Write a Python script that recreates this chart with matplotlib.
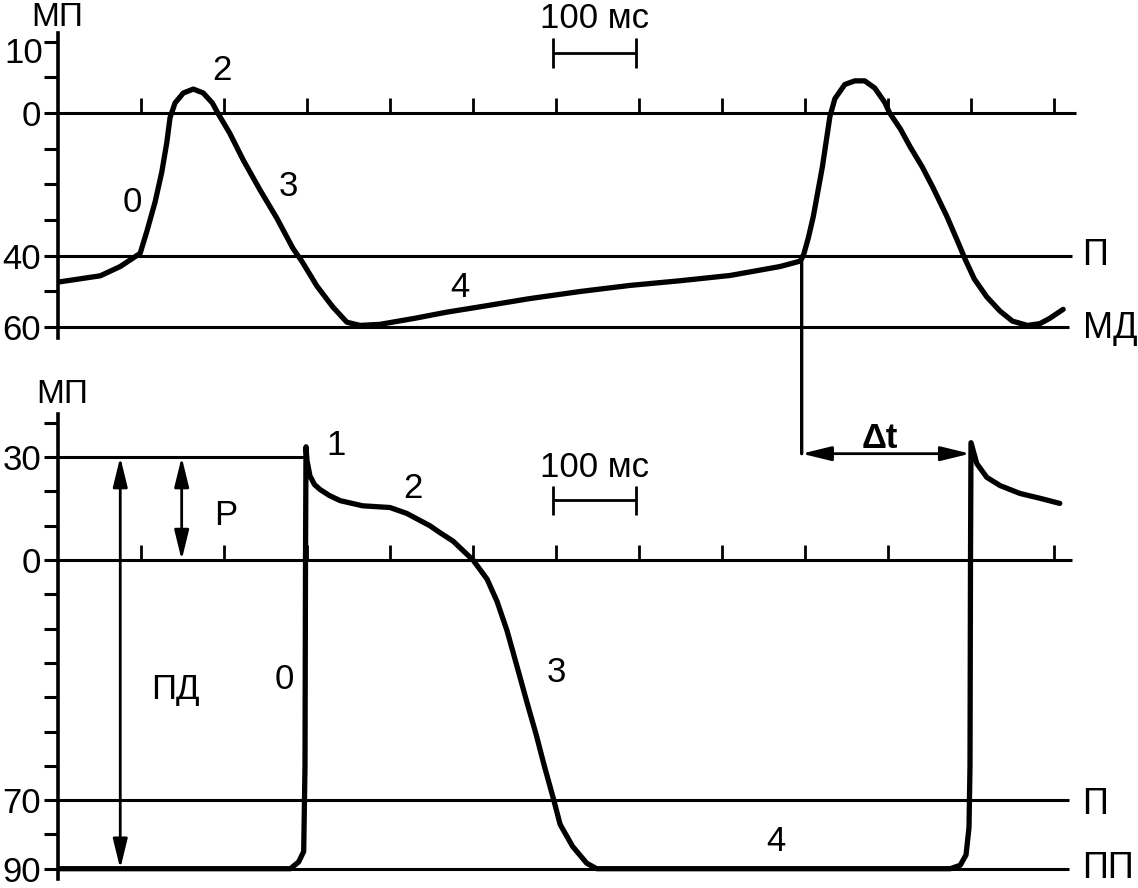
import matplotlib
matplotlib.use("Agg")
import matplotlib.pyplot as plt
from matplotlib.patches import ConnectionPatch

plt.rcParams['font.family'] = ['Liberation Sans', 'DejaVu Sans']

# верхняя кривая: пейсмекерная клетка (мс, мВ)
top_t = [0, 2, 51, 75, 90, 99, 107, 117, 125, 131, 135, 141, 151, 163, 175, 186, 193,
         207, 223, 243, 264, 283, 294, 312, 331, 348, 364, 388, 430, 468, 508, 568, 629, 689, 749,
         810, 846, 870, 894, 898, 904, 910, 921, 930, 936, 948, 960, 972, 984, 996, 1002,
         1015, 1027, 1041, 1054, 1071, 1084, 1093, 1104, 1119, 1135, 1150, 1168, 1183, 1195, 1211]
top_v = [-47.3, -47.3, -45.6, -43, -40.7, -39.3, -33.2, -24.9, -16.6, -8.4, -1.3, 2.8, 5.6, 6.7, 5.6, 2.8, -0.2,
         -5.7, -13.1, -21.4, -29.6, -37.9, -41.6, -48.5, -54.3, -58.6, -59.5, -59.2, -57.5, -55.8, -54.3, -52, -50, -48.3, -47,
         -45.5, -44, -43, -41.5, -40, -35, -29, -15, -1, 4, 8, 9, 9, 7, 3, 0,
         -4.5, -9.6, -15, -20.8, -29, -36, -41, -46.5, -51.5, -55.5, -58.3, -59.5, -59, -57.5, -55]

# нижняя кривая: рабочий кардиомиоцит (мс, мВ)
bot_t = [0, 171, 280, 290, 296, 297.6, 298.2, 298.8, 300, 303.6, 309, 316, 327, 340, 367,
         400, 420, 448, 460, 476, 500, 517, 529, 541, 553, 565, 576, 586, 597, 605,
         620, 637, 649, 660,
         1075, 1087, 1094, 1097.6, 1098.8, 1099.4, 1100, 1107, 1119, 1135, 1159, 1183, 1207]
bot_v = [-90, -90, -90, -88, -85, -60, 0, 33, 29, 24.5, 22, 20.5, 18.8, 17.3, 15.8,
         15.3, 13.6, 10, 8, 5.5, 0, -5.6, -12.1, -20.6, -31, -41.5, -50.8, -60.1, -69.7, -77.1,
         -83.5, -88.4, -90, -90,
         -90, -89, -86, -78, -60, 0, 34.2, 28.1, 24.1, 21.7, 19.4, 18, 16.5]

time_ticks = [100, 200, 300, 400, 500, 600, 700, 800, 900, 1000, 1100, 1200]

top_levels = [0, -40, -60]
top_yticks = [20, 10, 0, -10, -20, -30, -40, -50, -60]
bot_levels = [30, 0, -70, -90]
bot_yticks = [40, 30, 20, 10, 0, -10, -20, -30, -40, -50, -60, -70, -80, -90]

fig = plt.figure(figsize=(11.38, 8.88), dpi=100)
xmax = 1080 / 0.83

top = fig.add_axes([58 / 1138, 1 - 345 / 888, 1080 / 1138, 345 / 888])
bot = fig.add_axes([58 / 1138, 0, 1080 / 1138, 513 / 888])
top.set_xlim(0, xmax)
top.set_ylim((113 - 345) / 3.57, 113 / 3.57)
bot.set_xlim(0, xmax)
bot.set_ylim((560 - 888) / 3.43, (560 - 375) / 3.43)

for ax in (top, bot):
    for s in ['top', 'right', 'bottom']:
        ax.spines[s].set_visible(False)
    ax.spines['left'].set_linewidth(2.6)
    ax.set_xticks([])
    ax.tick_params(axis='y', length=10, width=2.2, pad=2, labelsize=25)
    ax.patch.set_alpha(0)

top.spines['left'].set_bounds(-63, 22.5)
bot.spines['left'].set_bounds(-93, 42.5)

top.set_yticks(top_yticks)
top.set_yticklabels([str(abs(v)) if v in top_levels else '' for v in top_yticks])
top.text(-15 / 1080, 16.8, '10', transform=top.get_yaxis_transform(),
         ha='right', va='center', fontsize=25)
bot.set_yticks(bot_yticks)
bot.set_yticklabels([str(abs(v)) if v in bot_levels else '' for v in bot_yticks])

lw_line = 2.2
lw_curve = 3.8

# горизонтальные уровни
top.hlines(top_levels, 0, [1226, 1222, 1218], color='k', lw=lw_line)
bot.hlines([30], 0, 298, color='k', lw=lw_line)
bot.hlines([0, -70, -90], 0, [1222, 1218, 1218], color='k', lw=lw_line)

# отметки времени
top.vlines(time_ticks, 0, 4.3, color='k', lw=2)
bot.vlines(time_ticks, 0, 4.5, color='k', lw=2)

top.plot(top_t, top_v, color='k', lw=lw_curve, solid_joinstyle='round', solid_capstyle='round')
bot.plot(bot_t, bot_v, color='k', lw=lw_curve, solid_joinstyle='round', solid_capstyle='round')

# масштаб 100 мс
for ax, ybar, ytxt, cap in ((top, 16.8, 26.5, 4.2), (bot, 17.4, 27, 4.3)):
    ax.hlines(ybar, 596, 696, color='k', lw=2)
    ax.vlines([596, 696], ybar - cap, ybar + cap, color='k', lw=2)
    ax.text(646, ytxt, '100 мс', ha='center', va='center', fontsize=25)

fs = 25
top.text(90, -25, '0', ha='center', va='center', fontsize=fs)
top.text(198, 12, '2', ha='center', va='center', fontsize=fs)
top.text(277, -20.5, '3', ha='center', va='center', fontsize=fs)
top.text(484, -49, '4', ha='center', va='center', fontsize=fs)
top.text(1250, -40, 'П', ha='center', va='center', fontsize=26)
top.text(1268, -60.5, 'МД', ha='center', va='center', fontsize=26)

bot.text(141, -37.7, 'ПД', ha='center', va='center', fontsize=fs)
bot.text(202, 13, 'Р', ha='center', va='center', fontsize=fs)
bot.text(273, -34.8, '0', ha='center', va='center', fontsize=fs)
bot.text(335, 33.3, '1', ha='center', va='center', fontsize=fs)
bot.text(428, 20.9, '2', ha='center', va='center', fontsize=fs)
bot.text(601, -32.8, '3', ha='center', va='center', fontsize=fs)
bot.text(865, -82, '4', ha='center', va='center', fontsize=fs)
bot.text(990, 35.4, 'Δt', ha='center', va='center', fontsize=fs, fontweight='bold')
bot.text(1250, -71.3, 'П', ha='center', va='center', fontsize=26)
bot.text(1265, -90, 'ПП', ha='center', va='center', fontsize=26)

fig.text(57 / 1138, 1 - 17 / 888, 'МП', ha='center', va='center', fontsize=24)
fig.text(62 / 1138, 1 - 394 / 888, 'МП', ha='center', va='center', fontsize=24)

arrow = dict(arrowstyle='<|-|>,head_length=0.9,head_width=0.22', color='k', lw=2,
             shrinkA=0, shrinkB=0, mutation_scale=20)
bot.annotate('', xy=(75, 30), xytext=(75, -90), arrowprops=arrow)
bot.annotate('', xy=(149, 30), xytext=(149, 0), arrowprops=arrow)
bot.annotate('', xy=(896, 31), xytext=(1099, 31), arrowprops=arrow)

con = ConnectionPatch(xyA=(896, -40), coordsA=top.transData,
                      xyB=(896, 31), coordsB=bot.transData, color='k', lw=2.4)
fig.add_artist(con)

fig.savefig('out.png', dpi=100)
